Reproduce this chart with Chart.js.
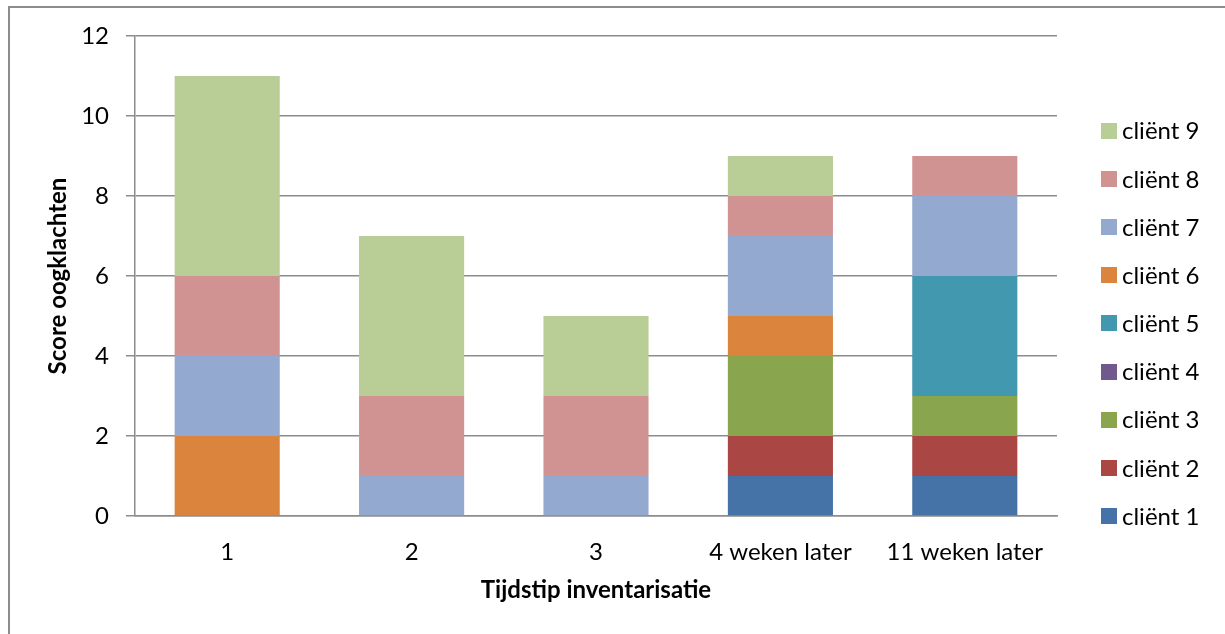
<!DOCTYPE html>
<html>
<head>
<meta charset="utf-8">
<script src="https://cdn.jsdelivr.net/npm/chart.js@4"></script>
<style>
  html, body { margin: 0; padding: 0; background: #fff; }
  #wrap { position: absolute; left: 0; top: 0; width: 1225px; height: 634px; }
</style>
</head>
<body>
<div id="wrap"><canvas id="c" width="1225" height="634"></canvas></div>
<script>
const categories = ['1', '2', '3', '4 weken later', '11 weken later'];
const seriesNames = ['cliënt 1', 'cliënt 2', 'cliënt 3', 'cliënt 4', 'cliënt 5', 'cliënt 6', 'cliënt 7', 'cliënt 8', 'cliënt 9'];
const client1 = [0, 0, 0, 1, 1];
const client2 = [0, 0, 0, 1, 1];
const client3 = [0, 0, 0, 2, 1];
const client4 = [0, 0, 0, 0, 0];
const client5 = [0, 0, 0, 0, 3];
const client6 = [2, 0, 0, 1, 0];
const client7 = [2, 1, 1, 2, 2];
const client8 = [2, 2, 2, 1, 1];
const client9 = [5, 4, 2, 1, 0];
const yTicks = [0, 2, 4, 6, 8, 10, 12];
const yTitle = 'Score oogklachten';
const xTitle = 'Tijdstip inventarisatie';

const seriesValues = [client1, client2, client3, client4, client5, client6, client7, client8, client9];
const colors = ['#4572A7', '#AA4643', '#89A54E', '#71588F', '#4198AF', '#DB843D', '#93A9CF', '#D19392', '#B9CD96'];

const FONT = "Lato, 'Open Sans', 'DejaVu Sans', sans-serif";

const datasets = seriesNames.map((name, i) => ({
  label: name,
  data: seriesValues[i],
  backgroundColor: colors[i],
  borderWidth: 0,
  barPercentage: 0.57,
  categoryPercentage: 1.0
}));

const framePlugin = {
  id: 'frame',
  beforeDraw(chart) {
    const ctx = chart.ctx;
    ctx.save();
    ctx.fillStyle = '#ffffff';
    ctx.fillRect(0, 0, chart.width, chart.height);
    ctx.fillStyle = '#8c8c8c';
    ctx.fillRect(8, 6, 2, chart.height - 6);
    ctx.fillRect(8, 6, chart.width - 8, 2);
    ctx.restore();
  }
};

const legendPlugin = {
  id: 'customLegend',
  afterDraw(chart) {
    const ctx = chart.ctx;
    const ds = chart.data.datasets;
    ctx.save();
    ctx.font = "24px " + FONT;
    ctx.textBaseline = 'middle';
    ctx.textAlign = 'left';
    const n = ds.length;
    const bottomY = 516, topY = 130.7;
    const step = (bottomY - topY) / (n - 1);
    for (let i = 0; i < n; i++) {
      const cy = bottomY - i * step;
      ctx.fillStyle = ds[i].backgroundColor;
      ctx.fillRect(1101, Math.round(cy - 8), 16, 16);
      ctx.fillStyle = '#000000';
      ctx.fillText(ds[i].label, 1122, cy + 1);
    }
    ctx.restore();
  }
};

new Chart(document.getElementById('c'), {
  type: 'bar',
  data: { labels: categories, datasets },
  options: {
    responsive: false,
    animation: false,
    layout: { padding: { left: 0, right: 168, top: 36, bottom: 0 } },
    plugins: {
      legend: { display: false },
      tooltip: { enabled: false }
    },
    scales: {
      x: {
        stacked: true,
        grid: { display: false, drawTicks: false },
        border: { display: true, color: '#8c8c8c', width: 1.5 },
        ticks: { color: '#000', font: { family: FONT, size: 24 }, padding: 22, maxRotation: 0, autoSkip: false },
        title: { display: true, text: xTitle, color: '#000', font: { family: FONT, size: 24, weight: 'bold' }, padding: { top: 0, bottom: 29 } },
        afterFit(scale) { scale.height = 118; }
      },
      y: {
        stacked: true,
        min: 0,
        max: 12,
        afterBuildTicks(scale) { scale.ticks = yTicks.map(v => ({ value: v })); },
        grid: { color: '#8c8c8c', lineWidth: 1.5, drawTicks: true, tickLength: 9 },
        border: { display: true, color: '#8c8c8c', width: 1.5 },
        ticks: { color: '#000', font: { family: FONT, size: 24 }, padding: 17 },
        title: { display: true, text: yTitle, color: '#000', font: { family: FONT, size: 24, weight: 'bold' }, padding: { top: 44, bottom: 0 } },
        afterFit(scale) { scale.width = 135; }
      }
    }
  },
  plugins: [framePlugin, legendPlugin]
});
</script>
</body>
</html>
